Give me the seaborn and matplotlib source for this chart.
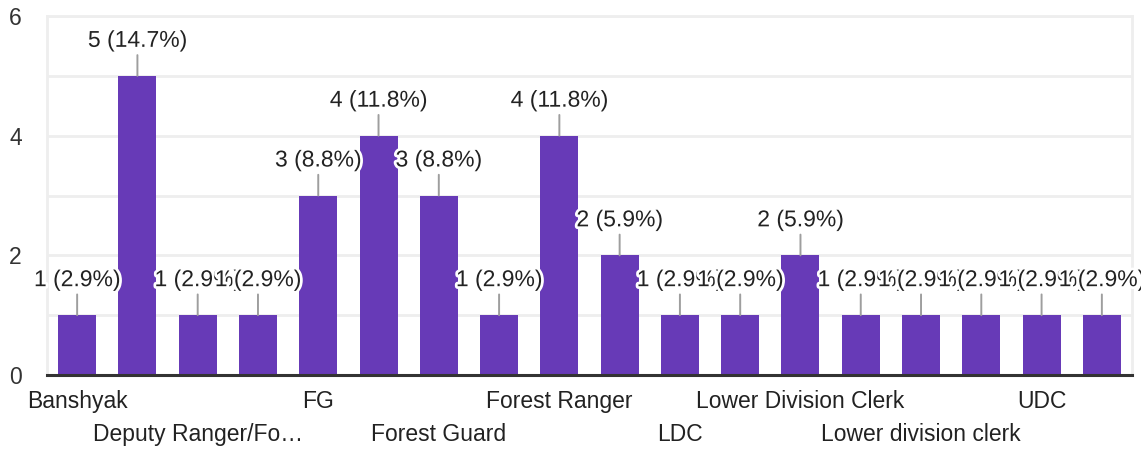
import seaborn as sns
import matplotlib.pyplot as plt
import matplotlib.patheffects as pe
import pandas as pd

# Data (odd categories have no visible label)
categories = [
    "Banshyak", "(hidden 1)", "Deputy Ranger/Fo…", "(hidden 2)", "FG",
    "(hidden 3)", "Forest Guard", "(hidden 4)", "Forest Ranger", "(hidden 5)",
    "LDC", "(hidden 6)", "Lower Division Clerk", "(hidden 7)",
    "Lower division clerk", "(hidden 8)", "UDC", "(hidden 9)",
]
counts = [1, 5, 1, 1, 3, 4, 3, 1, 4, 2, 1, 1, 2, 1, 1, 1, 1, 1]
y_ticks = [0, 2, 4, 6]

data = pd.DataFrame({"category": categories, "count": counts})
total = sum(counts)

sns.set_style("white")
plt.rcParams["font.family"] = ["Liberation Sans", "DejaVu Sans"]

fig = plt.figure(figsize=(11.41, 4.5), dpi=100)
ax = fig.add_axes([47 / 1141, 75 / 450, 1085 / 1141, 359 / 450])

sns.barplot(data=data, x="category", y="count", color="#673ab7",
            saturation=1, width=0.63, linewidth=0, ax=ax, zorder=2)

ax.set_xlim(-0.5, len(categories) - 0.5)
ax.set_ylim(0, 6)
ax.set_xlabel("")
ax.set_ylabel("")

# grid every unit, labels every 2
ax.set_yticks(range(0, 7), minor=True)
ax.set_yticks(y_ticks)
ax.grid(axis="y", which="both", color="#eeeeee", linewidth=2, zorder=0)
ax.tick_params(axis="y", which="both", length=0, pad=18,
               labelsize=16.5, labelcolor="#333333")

# x labels: every other category, alternating on two rows
ax.set_xticks(range(len(categories)))
ax.set_xticklabels([])
ax.tick_params(axis="x", length=0)
for i, name in enumerate(categories):
    if i % 2 == 1:
        continue
    row_y = -0.075 if i % 4 == 0 else -0.167
    ax.text(i, row_y, name, transform=ax.get_xaxis_transform(),
            ha="center", va="center", fontsize=16.5, color="#222222")

for side in ["left", "top", "right"]:
    ax.spines[side].set_color("#eeeeee")
    ax.spines[side].set_linewidth(2)
ax.spines["bottom"].set_color("#333333")
ax.spines["bottom"].set_linewidth(2.2)
ax.spines["bottom"].set_zorder(3)

# value labels with leader lines
halo = [pe.withStroke(linewidth=4, foreground="white")]
for i, v in enumerate(counts):
    label = f"{v} ({v / total * 100:.1f}%)"
    t = ax.annotate(label, xy=(i, v), xytext=(0, 24), textcoords="offset pixels",
                    ha="center", va="bottom", fontsize=16.5, color="#222222",
                    zorder=4,
                    arrowprops=dict(arrowstyle="-", color="#9e9e9e", lw=1.4,
                                    shrinkA=0, shrinkB=0))
    t.set_path_effects(halo)
    t.arrow_patch.set_path_effects([])

fig.savefig("out.png", dpi=100)
plt.close(fig)
